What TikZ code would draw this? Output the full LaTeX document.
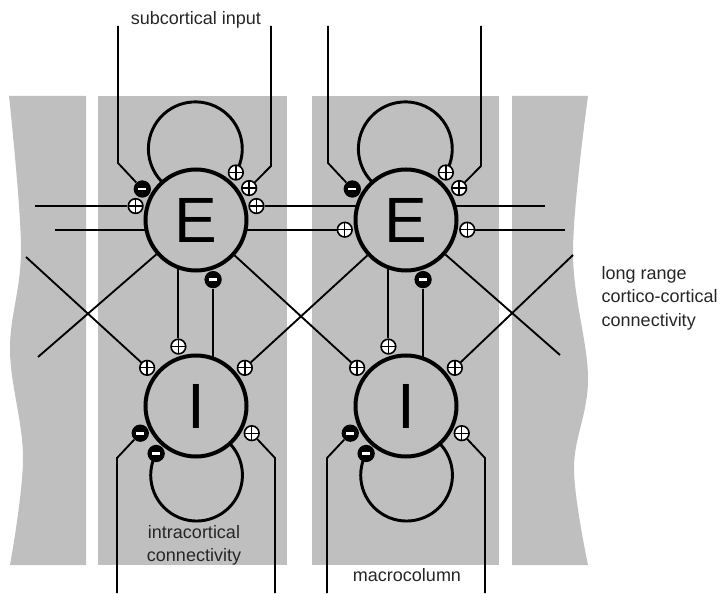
\documentclass[tikz,border=0pt]{standalone}
\usepackage{fontspec}
\setmainfont{Liberation Sans}
\usetikzlibrary{calc}
\pgfdeclarelayer{back}
\pgfdeclarelayer{wires}
\pgfsetlayers{back,wires,main}

\begin{document}
\begin{tikzpicture}[
  x=0.75pt, y=0.75pt,
  colfill/.style={fill=black!25, draw=none},
  neuron/.style={circle, draw, line width=3pt, fill=black!25, minimum size=75.75pt, inner sep=0pt, font=\fontsize{48}{48}\selectfont},
  exc/.style={circle, draw, line width=1.2pt, fill=white, minimum size=11pt, inner sep=0pt,
    path picture={\draw[line width=1pt] (path picture bounding box.north) -- (path picture bounding box.south)
      (path picture bounding box.west) -- (path picture bounding box.east);}},
  inh/.style={circle, fill=black, minimum size=13pt, inner sep=0pt,
    path picture={\draw[white, line width=2.2pt] ([xshift=-2.9pt]path picture bounding box.center) -- ([xshift=2.9pt]path picture bounding box.center);}},
  wire/.style={line width=1.4pt},
  loopwire/.style={line width=2.2pt},
  lab/.style={font=\fontsize{13.5}{17.6}\selectfont, text=black!85}
]
\useasboundingbox (0,0) rectangle (717,593);

\def\xA{196}
\def\xB{406}
\def\yE{373}
\def\yI{187}
\def\dS{62}

% gray columns
\begin{pgfonlayer}{back}
\fill[colfill] (86,497) -- (86,28) -- plot[smooth, tension=0.6] coordinates {(10,28) (23,135) (10,243) (21,345) (9,497)} -- cycle;
\fill[colfill] (98,28) rectangle (287,497);
\fill[colfill] (312,28) rectangle (499,497);
\fill[colfill] (512,28) -- (512,497) -- plot[smooth, tension=0.6] coordinates {(588,497) (573,341) (588,215) (574,125) (588,28)} -- cycle;
\end{pgfonlayer}

% neurons and synapses
\foreach \c/\x in {1/\xA, 2/\xB} {
  \node[neuron] (E\c) at (\x,\yE) {E};
  \node[neuron] (I\c) at (\x,\yI) {I};
  \node[inh] (E\c m) at ($(E\c)+(150:\dS)$) {};
  \node[exc] (E\c p) at ($(E\c)+(31:\dS)$) {};
  \node[exc] (E\c r) at ($(E\c)+(50:\dS)$) {};
  \node[inh] (E\c i) at ($(E\c)+(-74:\dS)$) {};
  \node[exc] (I\c e) at ($(I\c)+(106.5:\dS)$) {};
  \node[exc] (I\c l) at ($(I\c)+(142:\dS)$) {};
  \node[exc] (I\c q) at ($(I\c)+(38:\dS)$) {};
  \node[inh] (I\c m) at ($(I\c)+(206:\dS)$) {};
  \node[inh] (I\c r) at ($(I\c)+(230:\dS)$) {};
  \node[exc] (I\c p) at ($(I\c)+(-26:\dS)$) {};
  \coordinate (top\c l) at (\x-78,567);
  \coordinate (top\c r) at (\x+75,567);
  \coordinate (bot\c l) at (\x-79,0);
  \coordinate (bot\c r) at (\x+79,0);
}
\node[exc] (E1w) at ($(E1)+(167:\dS)$) {};
\node[exc] (E1e) at ($(E1)+(13:\dS)$) {};
\node[exc] (E2w) at ($(E2)+(189:\dS)$) {};
\node[exc] (E2e) at ($(E2)+(-9:\dS)$) {};

\coordinate (inL) at (35,0);
\coordinate (outL) at (55,0);
\coordinate (outR) at (545,0);
\coordinate (inR) at (565,0);
\coordinate (dLa) at (38,236);
\coordinate (dLb) at (26,336);
\coordinate (dRa) at (560,238);
\coordinate (dRb) at (573,338);

\begin{pgfonlayer}{wires}
\foreach \c/\x in {1/\xA, 2/\xB} {
  \draw[wire] (top\c l) -- (\x-78,430) -- (E\c m);
  \draw[wire] (top\c r) -- (\x+75,427) -- (E\c p);
  \draw[wire] (I\c m) -- (\x-79,135) -- (bot\c l);
  \draw[wire] (I\c p) -- (\x+79,135) -- (bot\c r);
  \draw[wire] (I\c e) -- (I\c e |- E\c);
  \draw[wire] (E\c i) -- (E\c i |- I\c);
  \draw[loopwire] (E\c r.center) arc[start angle=-30.3, end angle=235, radius=35.2pt];
  \draw[loopwire] (I\c r.center) arc[start angle=151.8, end angle=413, radius=34.4pt];
}
% horizontal links
\draw[wire] (E1w) -- (E1w -| inL);
\draw[wire] (E1 |- E2w) -- (E2w -| outL);
\draw[wire] (E1e) -- (E1e -| E2);
\draw[wire] (E1 |- E2w) -- (E2w);
\draw[wire] (E2e) -- (E2e -| inR);
\draw[wire] (E2 |- E1e) -- (E1e -| outR);
% crossing links
\draw[wire] (E1) -- (dLa);
\draw[wire] (dLb) -- (I1l);
\draw[wire] (E1) -- (I2l);
\draw[wire] (E2) -- (I1q);
\draw[wire] (E2) -- (dRa);
\draw[wire] (I2q) -- (dRb);
\end{pgfonlayer}

\node[lab, anchor=base] (subLab) at (196,568) {subcortical input};
\node[lab, anchor=west, align=left] (lrLab) at (597,295) {long range\\cortico-cortical\\connectivity};
\node[lab, align=center] (icLab) at (194,47.5) {intracortical\\connectivity};
\node[lab, anchor=base] (mcLab) at (407,12) {macrocolumn};

\end{tikzpicture}
\end{document}
